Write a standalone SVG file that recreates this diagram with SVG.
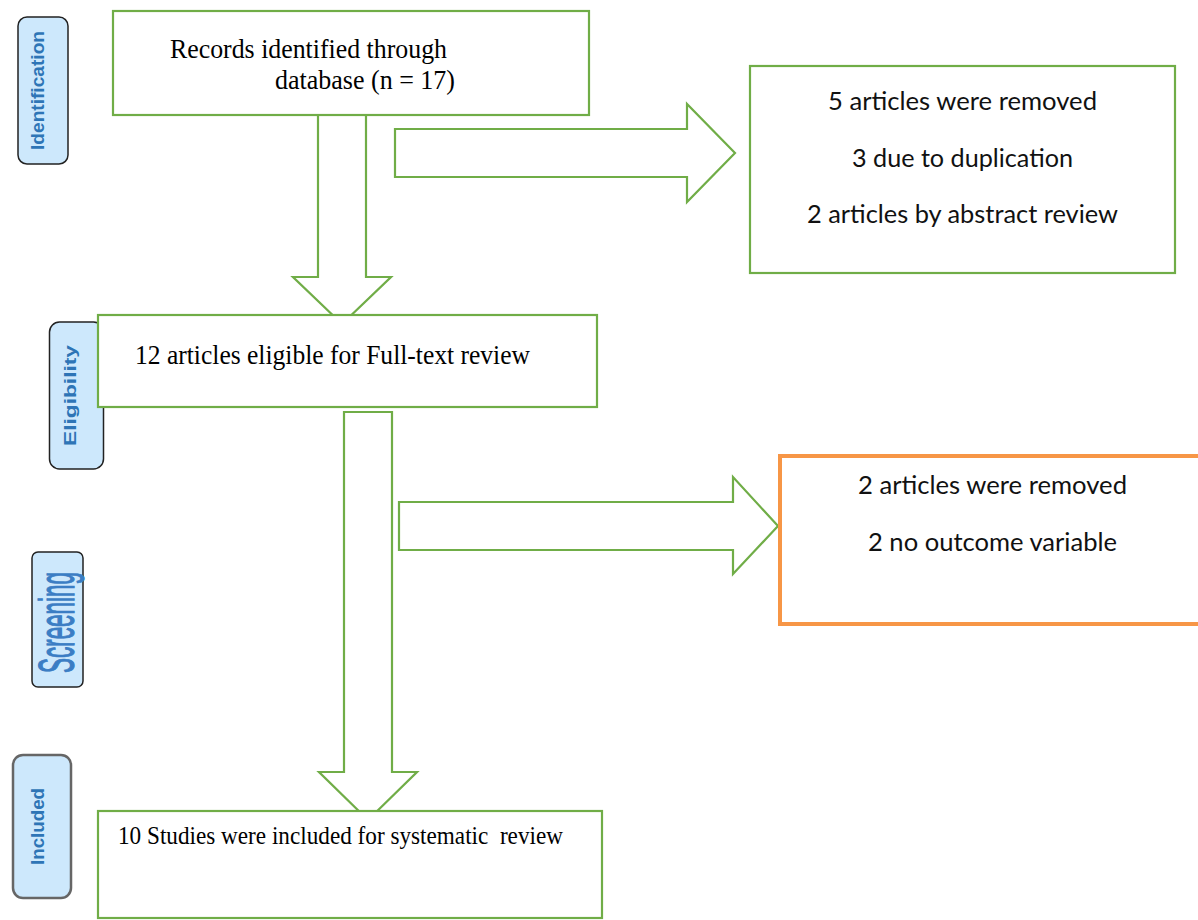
<svg xmlns="http://www.w3.org/2000/svg" width="1198" height="920" viewBox="0 0 1198 920">
<style>
.box{fill:#fff;stroke:#70AD47;stroke-width:2.2}
.arr{fill:#fff;stroke:#70AD47;stroke-width:2.2;stroke-linejoin:miter}
.tnr{font-family:"Liberation Serif","Times New Roman",serif;fill:#000;white-space:pre}
.cal{font-family:Lato,"Liberation Sans",sans-serif;fill:#111;text-anchor:middle}
.lab{fill:#CDE8FC;stroke:#222;stroke-width:1.5}
.labt{font-family:"Liberation Sans",Arial,sans-serif;font-weight:bold;fill:#2E75B6;text-anchor:middle}
</style>
<rect width="1198" height="920" fill="#fff"/>
<g id="connectors">
<polygon class="arr" points="318,115 318,277 293,277 342,324 391,277 366,277 366,115"/>
<polygon class="arr" points="395,129 687,129 687,104 735,153 687,202 687,177 395,177"/>
<polygon class="arr" points="344,412 392,412 392,772 417,772 368,820 319,772 344,772"/>
<polygon class="arr" points="399,502 733,502 733,477 778,526 733,574 733,550 399,550"/>
</g>
<g id="label-identification">
<rect class="lab" x="18" y="17" width="50" height="147" rx="9"/>
<text class="labt" font-size="17.5" textLength="119" lengthAdjust="spacingAndGlyphs" transform="translate(44,90.5) rotate(-90)">Identification</text>
</g>
<g id="label-eligibility">
<rect class="lab" x="49.5" y="322" width="54" height="147" rx="10"/>
<text class="labt" font-size="17" textLength="101" lengthAdjust="spacingAndGlyphs" transform="translate(76,395.5) rotate(-90)">Eligibility</text>
</g>
<g id="label-screening">
<rect class="lab" x="32" y="552" width="51" height="135" rx="6"/>
<text font-family="Liberation Sans,Arial,sans-serif" font-size="50" fill="#3B7DC4" stroke="#3B7DC4" stroke-width="1.2" text-anchor="middle" textLength="101" lengthAdjust="spacingAndGlyphs" transform="translate(74,622.5) rotate(-90)">Screening</text>
</g>
<g id="label-included">
<rect x="13" y="755" width="58" height="143" rx="10" fill="#CDE8FC" stroke="#666" stroke-width="2.5"/>
<text class="labt" font-size="18.5" textLength="77" lengthAdjust="spacingAndGlyphs" transform="translate(43.5,826.5) rotate(-90)">Included</text>
</g>
<g id="node-records">
<rect class="box" x="113" y="11" width="476" height="104"/>
<text class="tnr" x="170" y="58" font-size="27" textLength="277" lengthAdjust="spacingAndGlyphs">Records identified through</text>
<text class="tnr" x="275" y="89" font-size="27" textLength="180" lengthAdjust="spacingAndGlyphs">database (n = 17)</text>
</g>
<g id="node-removed1">
<rect class="box" x="750" y="66" width="425" height="207"/>
<text class="cal" x="962.5" y="110" font-size="25.5" textLength="269" lengthAdjust="spacingAndGlyphs">5 articles were removed</text>
<text class="cal" x="962.5" y="167" font-size="25.5" textLength="221" lengthAdjust="spacingAndGlyphs">3 due to duplication</text>
<text class="cal" x="962.5" y="223" font-size="25.5" textLength="311" lengthAdjust="spacingAndGlyphs">2 articles by abstract review</text>
</g>
<g id="node-eligible">
<rect class="box" x="98" y="315" width="499" height="92"/>
<text class="tnr" x="135" y="364" font-size="27" textLength="395" lengthAdjust="spacingAndGlyphs">12 articles eligible for Full-text review</text>
</g>
<g id="node-removed2">
<rect x="780" y="456" width="440" height="168" fill="#fff" stroke="#F79646" stroke-width="4"/>
<text class="cal" x="992.5" y="494" font-size="25.5" textLength="269" lengthAdjust="spacingAndGlyphs">2 articles were removed</text>
<text class="cal" x="992.5" y="551" font-size="25.5" textLength="249" lengthAdjust="spacingAndGlyphs">2 no outcome variable</text>
</g>
<g id="node-included">
<rect class="box" x="98" y="811" width="504" height="107"/>
<text class="tnr" x="118" y="844" font-size="26" textLength="445" lengthAdjust="spacingAndGlyphs">10 Studies were included for systematic  review</text>
</g>
</svg>
